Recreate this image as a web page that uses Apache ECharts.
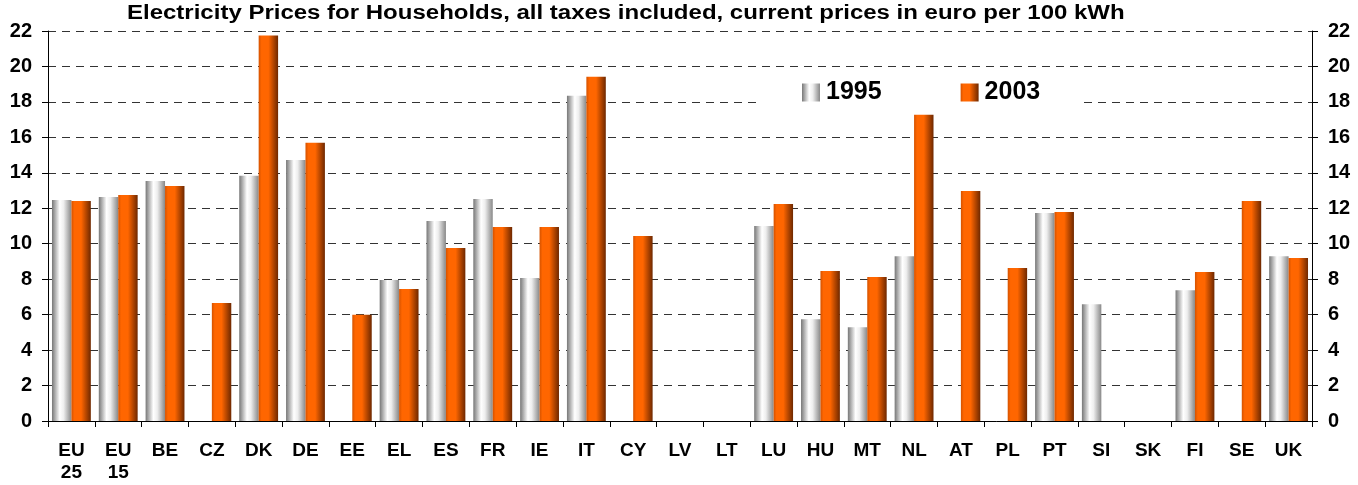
<!DOCTYPE html>
<html>
<head>
<meta charset="utf-8">
<script src="https://cdn.jsdelivr.net/npm/echarts@6/dist/echarts.min.js"></script>
<style>
html,body{margin:0;padding:0;background:#fff;}
#chart{width:1358px;height:485px;}
</style>
</head>
<body>
<div id="chart"></div>
<script>
var categories = ['EU\n25','EU\n15','BE','CZ','DK','DE','EE','EL','ES','FR','IE','IT','CY','LV','LT','LU','HU','MT','NL','AT','PL','PT','SI','SK','FI','SE','UK'];
var values1995 = [12.47,12.64,13.54,null,13.83,14.73,null,7.95,11.28,12.53,8.06,18.35,null,null,null,11.0,5.74,5.29,9.30,null,null,11.73,6.59,null,7.38,null,9.30];
var values2003 = [12.41,12.75,13.26,6.65,21.74,15.69,5.99,7.44,9.76,10.94,10.94,19.42,10.43,null,null,12.24,8.46,8.12,17.27,12.98,8.63,11.79,null,null,8.40,12.41,9.19];
var seriesNames = ['1995','2003'];
var titleText = 'Electricity Prices for Households, all taxes included, current prices in euro per 100 kWh';

var grayGrad = {type:'linear',x:0,y:0,x2:1,y2:0,colorStops:[
  {offset:0,color:'#777777'},{offset:0.4,color:'#ffffff'},{offset:0.6,color:'#eeeeee'},{offset:1,color:'#888888'}]};
var orangeGrad = {type:'linear',x:0,y:0,x2:1,y2:0,colorStops:[
  {offset:0,color:'#d45200'},{offset:0.15,color:'#ff6600'},{offset:0.5,color:'#ff6600'},{offset:1,color:'#6e2800'}]};

var font = '"Liberation Sans", Arial, sans-serif';
var yAxisCommon = {
  type:'value', min:0, max:22, interval:2,
  axisLine:{show:true,lineStyle:{color:'#000',width:1}},
  axisTick:{show:true,length:6,lineStyle:{color:'#000'}},
  axisLabel:{color:'#000',fontWeight:'bold',fontSize:20,fontFamily:font,margin:16}
};
var chart = echarts.init(document.getElementById('chart'), null, {renderer:'canvas'});
chart.setOption({
  animation:false,
  backgroundColor:'#fff',
  graphic:[{
    type:'text', x:127, y:3, scaleX:1.2, scaleY:1, z:10,
    style:{text:titleText, fill:'#000', font:'bold 20px "Liberation Sans", Arial, sans-serif', textAlign:'left', textVerticalAlign:'top'}
  }],
  legend:{
    data:seriesNames, left:762, top:74, padding:[6,39,6,40], backgroundColor:'#fff',
    itemWidth:18, itemHeight:18, itemGap:79, icon:'rect',
    textStyle:{fontFamily:font,fontWeight:'bold',fontSize:25,color:'#000',padding:[0,0,0,1]}
  },
  grid:{left:48,right:46,top:31,bottom:64,containLabel:false},
  xAxis:{
    type:'category', data:categories,
    axisLine:{lineStyle:{color:'#000',width:1}},
    axisTick:{show:true,length:6,alignWithLabel:false,lineStyle:{color:'#000'}},
    axisLabel:{interval:0,color:'#000',fontWeight:'bold',fontSize:19,fontFamily:font,margin:19,lineHeight:22}
  },
  yAxis:[
    Object.assign({}, yAxisCommon, {position:'left',
      splitLine:{show:true,lineStyle:{color:'#333',type:[8,6],width:1}}}),
    Object.assign({}, yAxisCommon, {position:'right', splitLine:{show:false}})
  ],
  series:[
    {name:seriesNames[0],type:'bar',data:values1995,barGap:'0%',barCategoryGap:'17%',
     itemStyle:{color:grayGrad}},
    {name:seriesNames[1],type:'bar',data:values2003,barGap:'0%',barCategoryGap:'17%',
     itemStyle:{color:orangeGrad}}
  ]
});
</script>
</body>
</html>
